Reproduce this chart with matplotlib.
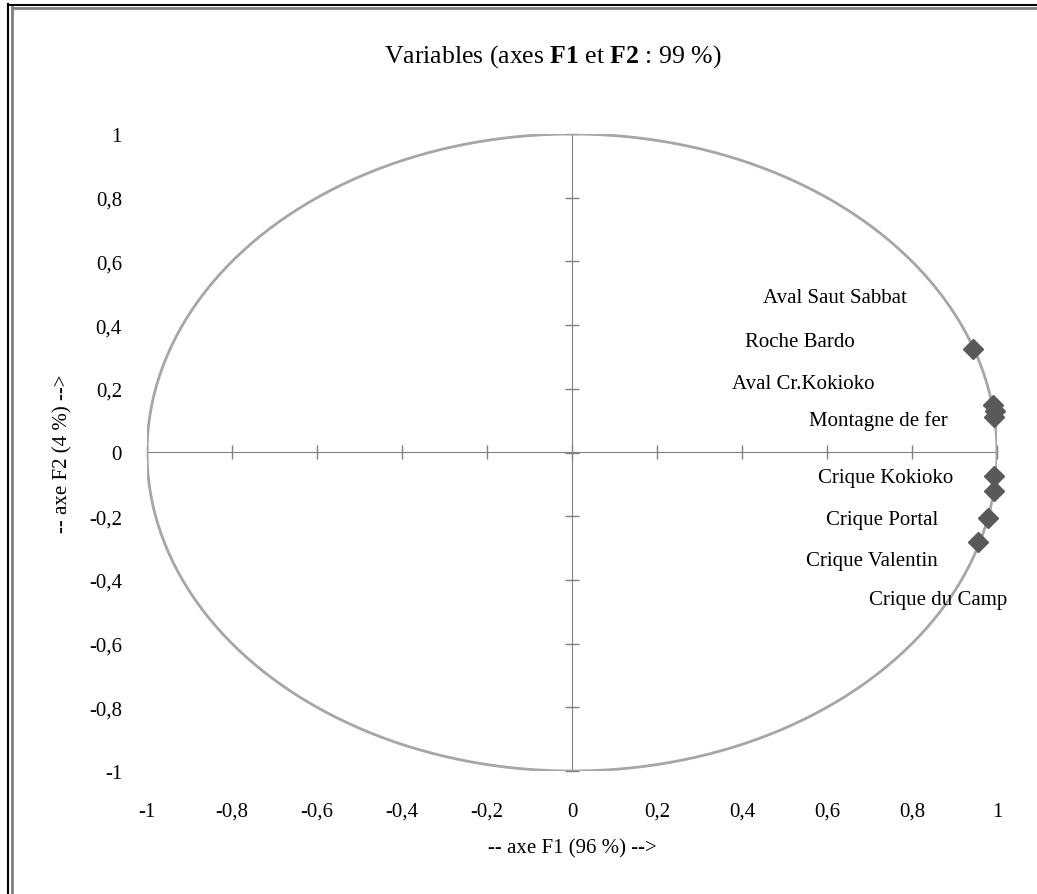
import numpy as np
import matplotlib
matplotlib.use("Agg")
import matplotlib.pyplot as plt
from matplotlib.lines import Line2D
from matplotlib.ticker import FuncFormatter

plt.rcParams["mathtext.fontset"] = "custom"
plt.rcParams["mathtext.rm"] = "Liberation Serif"
plt.rcParams["mathtext.bf"] = "Liberation Serif:bold"

# Data: correlations of variables with F1 and F2
names = ["Aval Saut Sabbat", "Roche Bardo", "Aval Cr.Kokioko", "Montagne de fer",
         "Crique Kokioko", "Crique Portal", "Crique Valentin", "Crique du Camp"]
f1 = [0.943, 0.990, 0.995, 0.992, 0.993, 0.993, 0.979, 0.955]
f2 = [0.325, 0.150, 0.130, 0.110, -0.074, -0.120, -0.205, -0.280]
# Label anchor positions (data units, as moved in the original chart)
label_x = [0.619, 0.536, 0.544, 0.720, 0.739, 0.729, 0.706, 0.861]
label_y = [0.488, 0.350, 0.218, 0.102, -0.080, -0.209, -0.338, -0.463]

ticks = [-1, -0.8, -0.6, -0.4, -0.2, 0, 0.2, 0.4, 0.6, 0.8, 1]

FONT = "Liberation Serif"
GRAY = "#808080"
FS = 15

fig = plt.figure(figsize=(10.37, 8.95), dpi=100)
ax = fig.add_axes([147/1037, 123/895, 850/1037, 637/895])
ax.set_xlim(-1, 1)
ax.set_ylim(-1, 1)
for s in ax.spines.values():
    s.set_visible(False)

fmt = FuncFormatter(lambda v, p: ("%g" % round(v, 2)).replace(".", ","))
ax.set_xticks(ticks)
ax.set_yticks(ticks)
ax.xaxis.set_major_formatter(fmt)
ax.yaxis.set_major_formatter(fmt)
ax.tick_params(axis="both", length=0, labelsize=FS, colors="black")
ax.tick_params(axis="x", pad=22)
ax.tick_params(axis="y", pad=18)
for lab in ax.get_xticklabels() + ax.get_yticklabels():
    lab.set_fontfamily(FONT)

# Central axes with crossing ticks
sx = ax.secondary_xaxis(0.5)
sx.set_xticks(ticks)
sx.tick_params(direction="inout", length=10, width=1, color=GRAY, labelbottom=False, labeltop=False)
for s in sx.spines.values():
    s.set_color(GRAY)
sx.xaxis.set_ticklabels([])
sy = ax.secondary_yaxis(0.5)
sy.set_yticks(ticks)
sy.tick_params(direction="inout", length=10, width=1, color=GRAY, labelleft=False, labelright=False)
for s in sy.spines.values():
    s.set_color(GRAY)
sy.yaxis.set_ticklabels([])

# Correlation circle
t = np.linspace(0, 2*np.pi, 400)
ax.plot(np.cos(t), np.sin(t), color="#A6A6A6", lw=2, zorder=2)

# Points
ax.plot(f1, f2, linestyle="none", marker="D", markersize=10.5,
        color="#595959", zorder=4, clip_on=False)
for n, lx, ly in zip(names, label_x, label_y):
    ax.text(lx, ly, n, ha="center", va="center", fontsize=FS,
            family=FONT, zorder=5)

fig.text(553/1037, 1 - 57/895, "Variables (axes $\\mathbf{F1}$ et $\\mathbf{F2}$ : 99 %)",
         fontsize=18.5, family=FONT, ha="center", va="center")
ax.set_xlabel("-- axe F1 (96 %) -->", fontsize=FS, family=FONT, labelpad=13)
ax.set_ylabel("-- axe F2 (4 %) -->", fontsize=FS, family=FONT, labelpad=12)

# Frame lines (top & left, black + gray)
fig.add_artist(Line2D([7.5/1037, 7.5/1037], [0, 1 - 5/895], color="black", lw=1.5, transform=fig.transFigure))
fig.add_artist(Line2D([7.5/1037, 1], [1 - 5.5/895, 1 - 5.5/895], color="black", lw=1.5, transform=fig.transFigure))
fig.add_artist(Line2D([12/1037, 12/1037], [0, 1 - 8/895], color=GRAY, lw=2, transform=fig.transFigure))
fig.add_artist(Line2D([12/1037, 1], [1 - 9/895, 1 - 9/895], color=GRAY, lw=2, transform=fig.transFigure))

fig.savefig("out.png", dpi=100)
